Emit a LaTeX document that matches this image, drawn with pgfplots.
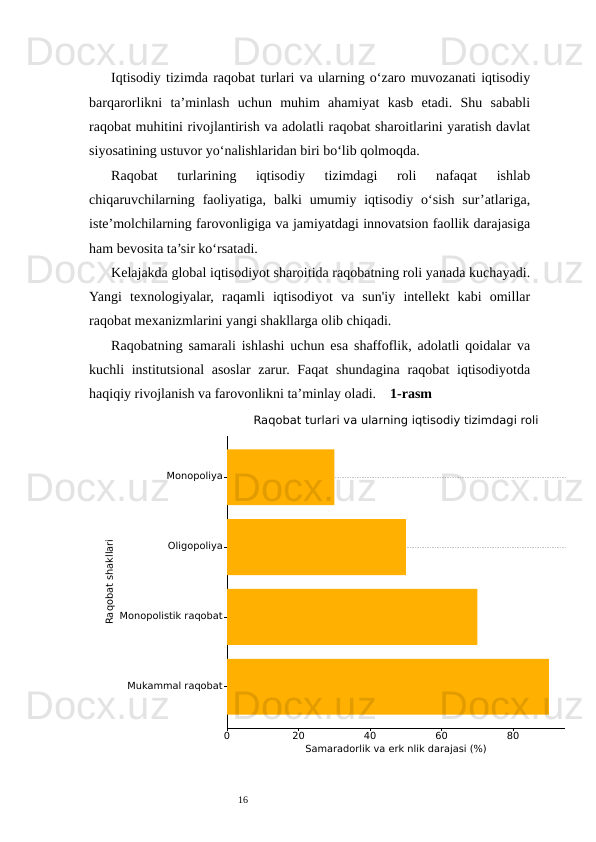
\documentclass[border=0pt]{standalone}
\usepackage{pgfplots}
\pgfplotsset{compat=1.18}
\usepackage{fontspec}
\setmainfont{Liberation Serif}
\newfontfamily\dejavu{DejaVu Sans}
\newfontfamily\wmfont{Liberation Sans}
\definecolor{barorange}{RGB}{255,176,0}
\definecolor{gridgray}{RGB}{200,200,200}

\begin{document}
\begin{tikzpicture}[x=1pt,y=1pt]
\useasboundingbox[fill=white] (0,0) rectangle (595,842);

% body text
\node[anchor=base west, inner sep=0pt] at (89,759) {\parbox[t]{441pt}{%
\fontsize{14}{24.3}\selectfont\frenchspacing
\setlength{\parindent}{22pt}\setlength{\parskip}{0pt}%
\tolerance=10000 \hbadness=10000 \hyphenpenalty=10000 \exhyphenpenalty=10000
Iqtisodiy tizimda raqobat turlari va ularning o‘zaro muvozanati iqtisodiy\linebreak
barqarorlikni ta’minlash uchun muhim ahamiyat kasb etadi. Shu sababli\linebreak
raqobat muhitini rivojlantirish va adolatli raqobat sharoitlarini yaratish davlat\linebreak
siyosatining ustuvor yo‘nalishlaridan biri bo‘lib qolmoqda.\par
Raqobat turlarining iqtisodiy tizimdagi roli nafaqat ishlab\linebreak
chiqaruvchilarning faoliyatiga, balki umumiy iqtisodiy o‘sish sur’atlariga,\linebreak
iste’molchilarning farovonligiga va jamiyatdagi innovatsion faollik darajasiga\linebreak
ham bevosita ta’sir ko‘rsatadi.\par
Kelajakda global iqtisodiyot sharoitida raqobatning roli yanada kuchayadi.\linebreak
Yangi texnologiyalar, raqamli iqtisodiyot va sun\textquotesingle iy intellekt kabi omillar\linebreak
raqobat mexanizmlarini yangi shakllarga olib chiqadi.\par
Raqobatning samarali ishlashi uchun esa shaffoflik, adolatli qoidalar va\linebreak
kuchli institutsional asoslar zarur. Faqat shundagina raqobat iqtisodiyotda\linebreak
haqiqiy rivojlanish va farovonlikni ta’minlay oladi.\hspace*{14pt}\textbf{1-rasm}\par}};

\begin{axis}[
  at={(227pt,114pt)}, anchor=south west,
  scale only axis, width=338pt, height=292pt,
  xbar, bar width=0.8,
  xmin=0, xmax=94.5, ymin=-0.59, ymax=3.59,
  axis x line*=bottom, axis y line*=left,
  axis line style={black, line width=0.8pt},
  tick align=outside, major tick length=3pt,
  tick style={black, line width=0.6pt},
  hide obscured x ticks=false,
  xtick={0,20,40,60,80},
  ytick={0,1,2,3},
  yticklabels={Mukammal raqobat,Monopolistik raqobat,Oligopoliya,Monopoliya},
  extra y ticks={2,3}, extra y tick labels={},
  extra y tick style={grid=major, major tick length=0pt},
  major grid style={gridgray, dash pattern=on 1.5pt off 1pt, line width=0.6pt},
  /pgf/number format/assume math mode=true,
  ticklabel style={font=\dejavu\fontsize{9.8}{11}\selectfont},
  xticklabel style={inner sep=1pt},
  yticklabel style={inner sep=1pt},
  title={Raqobat turlari va ularning iqtisodiy tizimdagi roli},
  title style={font=\dejavu\fontsize{11.5}{13}\selectfont, at={(axis description cs:0.5,1)}, anchor=base, yshift=5pt},
  xlabel={Samaradorlik va erk nlik darajasi (\%)},
  xlabel style={font=\dejavu\fontsize{9.8}{11}\selectfont, at={(axis description cs:0.5,0)}, anchor=base, yshift=-24pt},
  ylabel={Raqobat shakllari},
  ylabel style={font=\dejavu\fontsize{9.8}{11}\selectfont, at={(axis description cs:-0.346,0.5)}, anchor=center},
]
\addplot[fill=barorange, draw=none] coordinates {(90,0) (70,1) (50,2) (30,3)};
\end{axis}

% page number
\node[font=\fontsize{10}{11}\selectfont] at (243,42) {16};

% faint watermark
\foreach \wy in {790,572,354,136}{
  \foreach \wx in {98,305,512}{
    \node[text=black, text opacity=0.11, font=\wmfont\fontsize{40}{40}\selectfont] at (\wx,\wy) {Docx.uz};
  }
}
\end{tikzpicture}
\end{document}
